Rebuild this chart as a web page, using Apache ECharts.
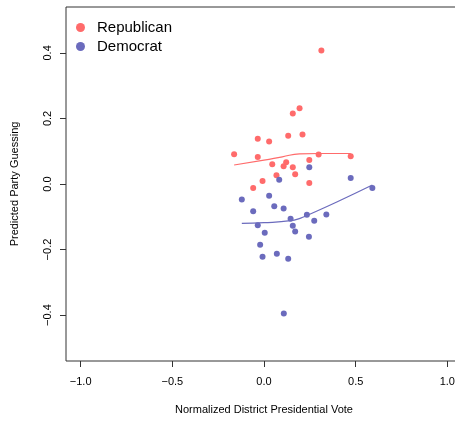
<!DOCTYPE html>
<html>
<head>
<meta charset="utf-8">
<script src="https://cdn.jsdelivr.net/npm/echarts@6/dist/echarts.min.js"></script>
<style>
  html, body { margin: 0; padding: 0; background: #fff; }
  #chart { width: 455px; height: 421px; }
</style>
</head>
<body>
<div id="chart"></div>
<script>
// points: [vote, guessing]
var repPoints = [
    [0.313, 0.407], [0.194, 0.231], [0.157, 0.215], [-0.034, 0.138], [0.028, 0.130],
    [0.132, 0.147], [0.210, 0.151], [-0.163, 0.091], [-0.034, 0.082], [0.298, 0.090],
    [0.473, 0.085], [0.247, 0.073], [0.045, 0.060], [0.121, 0.066], [0.107, 0.054],
    [0.157, 0.051], [0.170, 0.030], [0.068, 0.027], [-0.008, 0.009], [0.247, 0.003],
    [-0.059, -0.012]
];
var demPoints = [
    [0.247, 0.051], [0.083, 0.013], [0.473, 0.018], [0.591, -0.012], [0.028, -0.036],
    [-0.121, -0.047], [-0.059, -0.083], [0.056, -0.068], [0.107, -0.075], [-0.034, -0.126],
    [0.145, -0.106], [0.234, -0.094], [0.340, -0.093], [0.274, -0.112], [0.157, -0.127],
    [0.170, -0.145], [0.004, -0.149], [0.245, -0.161], [-0.021, -0.185], [-0.008, -0.222],
    [0.070, -0.213], [0.132, -0.228], [0.108, -0.395]
];
// loess fits
var repFit = [[-0.163, 0.058], [0.0, 0.073], [0.1, 0.083], [0.194, 0.092], [0.3, 0.093], [0.473, 0.093]];
var demFit = [[-0.121, -0.120], [0.0, -0.118], [0.145, -0.112], [0.2, -0.104], [0.234, -0.096], [0.4, -0.054], [0.591, -0.003]];

var xTicks = [-1, -0.5, 0, 0.5, 1];
var yTicks = [-0.4, -0.2, 0, 0.2, 0.4];

var red = "#ff6b6b";
var blue = "#6b6bbd";
var font = "Liberation Sans, Arial, sans-serif";

function fmt(v) {
    return v < 0 ? "\u2212" + Math.abs(v).toFixed(1) : v.toFixed(1);
}

var myChart = echarts.init(document.getElementById("chart"));

var option = {
    animation: false,
    grid: {
        show: true,
        left: 66,
        top: 7,
        width: 396,
        height: 354,
        outerBoundsMode: "none",
        containLabel: false,
        borderColor: "#333",
        borderWidth: 1,
        backgroundColor: "transparent"
    },
    legend: {
        data: ["Republican", "Democrat"],
        orient: "vertical",
        left: 76,
        top: 20,
        padding: 0,
        itemWidth: 9,
        itemHeight: 9,
        itemGap: 4,
        textStyle: { fontFamily: font, fontSize: 15, color: "#000", padding: [0, 0, 0, 7] }
    },
    xAxis: {
        type: "value",
        min: -1.08,
        max: 1.08,
        name: "Normalized District Presidential Vote",
        nameLocation: "middle",
        nameGap: 43,
        nameTextStyle: { fontFamily: font, fontSize: 11, color: "#000" },
        splitLine: { show: false },
        axisLine: { show: false, onZero: false },
        axisTick: { show: true, length: 6, lineStyle: { color: "#333" }, customValues: xTicks },
        axisLabel: {
            customValues: xTicks,
            margin: 15,
            fontFamily: font,
            fontSize: 11,
            color: "#000",
            formatter: fmt
        }
    },
    yAxis: {
        type: "value",
        min: -0.54,
        max: 0.54,
        name: "Predicted Party Guessing",
        nameLocation: "middle",
        nameGap: 46,
        nameRotate: 90,
        nameTextStyle: { fontFamily: font, fontSize: 11, color: "#000" },
        splitLine: { show: false },
        axisLine: { show: false, onZero: false },
        axisTick: { show: true, length: 6, lineStyle: { color: "#333" }, customValues: yTicks },
        axisLabel: {
            customValues: yTicks,
            rotate: 90,
            margin: 13,
            fontFamily: font,
            fontSize: 11,
            color: "#000",
            formatter: fmt
        }
    },
    series: [
        {
            name: "Republican",
            type: "scatter",
            symbolSize: 6,
            itemStyle: { color: red, opacity: 1 },
            data: repPoints,
            z: 3
        },
        {
            name: "Democrat",
            type: "scatter",
            symbolSize: 6,
            itemStyle: { color: blue, opacity: 1 },
            data: demPoints,
            z: 3
        },
        {
            name: "repFit",
            type: "line",
            smooth: true,
            showSymbol: false,
            lineStyle: { color: red, width: 1.2 },
            data: repFit,
            z: 2
        },
        {
            name: "demFit",
            type: "line",
            smooth: true,
            showSymbol: false,
            lineStyle: { color: blue, width: 1.2 },
            data: demFit,
            z: 2
        }
    ]
};
myChart.setOption(option);
</script>
</body>
</html>
